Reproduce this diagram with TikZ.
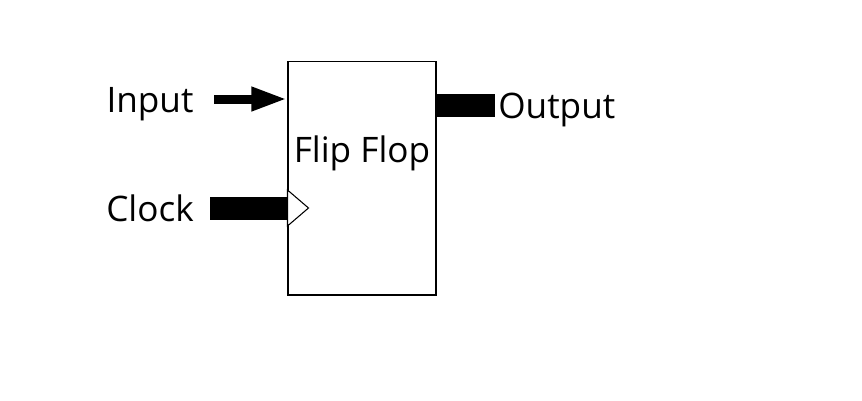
\documentclass[tikz,border=0pt]{standalone}
\usepackage{fontspec}
\setmainfont{Open Sans}
\usetikzlibrary{arrows.meta}

\begin{document}
\begin{tikzpicture}[
        x=0.02cm, y=-0.02cm,
        block/.style={rectangle, draw, line width=0.6pt, minimum width=2.96cm, minimum height=4.68cm, inner sep=0pt},
        port_label/.style={font=\fontsize{20}{24}\selectfont, inner sep=0pt, anchor=base},
        wire/.style={line width=0.18cm},
        bus/.style={line width=0.46cm}
    ]
        \useasboundingbox (0,0) rectangle (862,400);

        % the flip flop itself
        \node[block] (ff) at (362,178) {};
        \node[port_label] (ff_name) at (362,162) {Flip Flop};

        % Input: thin arrow into the box
        \node[port_label] (input) at (150,112) {Input};
        \coordinate (input_start) at (214,99);
        \draw[wire, -{Triangle[length=0.72cm, width=0.44cm]}] (input_start) -- (ff.west |- input_start);

        % Clock: thick bar and clock triangle
        \node[port_label] (clock) at (150,221) {Clock};
        \coordinate (clock_start) at (210,208);
        \draw[bus] (clock_start) -- (ff.west |- clock_start);
        \draw[line width=0.6pt, fill=white] (ff.west |- clock_start) ++(0,-18) -- ++(21,18) -- ++(-21,18) -- cycle;

        % Output: thick bar out of the box
        \node[port_label, anchor=base west] (output) at (498,118) {Output};
        \coordinate (output_end) at (495,105);
        \draw[bus] (ff.east |- output_end) -- (output_end);

    \end{tikzpicture}
\end{document}
